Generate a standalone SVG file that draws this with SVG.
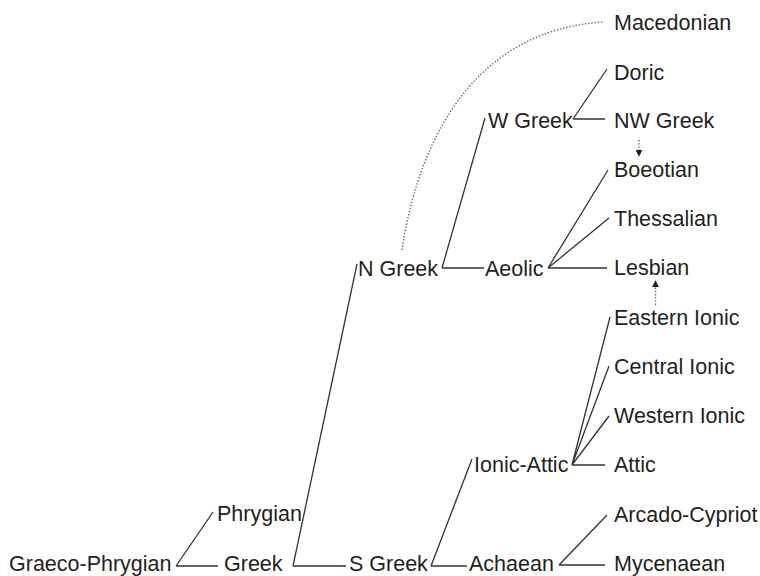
<svg xmlns="http://www.w3.org/2000/svg" width="760" height="576" viewBox="0 0 760 576">
<style>
text{font-family:"Liberation Sans",Arial,sans-serif;font-size:21.5px;fill:#231f20}
.e{stroke:#333;stroke-width:1.3;fill:none}
.d{stroke:#666;stroke-width:1.4;fill:none;stroke-dasharray:1.4 1.8}
</style>
<defs>
<marker id="ah" viewBox="0 0 10 10" refX="9" refY="5" markerWidth="7" markerHeight="7" markerUnits="userSpaceOnUse" orient="auto">
<path d="M0,0 L10,5 L0,10 Z" fill="#231f20"/>
</marker>
</defs>
<g id="connectors">
<path class="e" d="M176,566 L213,512 M176,566 L218,566"/>
<path class="e" d="M293,566 L357,264 M293,566 L346,566"/>
<path class="e" d="M431,566 L472,459 M431,566 L467,566"/>
<path class="e" d="M559,565 L607,515 M559,565 L605,565"/>
<path class="e" d="M442,268 L485,118 M442,268 L484,268"/>
<path class="e" d="M548,268 L608,170 M548,268 L609,218 M548,268 L607,268"/>
<path class="e" d="M573,119 L607,69 M573,119 L605,119"/>
<path class="e" d="M572,465 L610,317 M572,465 L609,366 M572,465 L609,416 M572,465 L605,465"/>
<path class="d" d="M402,250 C420,130 480,30 603,22"/>
<path class="d" d="M639,140 L639,156" marker-end="url(#ah)"/>
<path class="d" d="M655.5,305 L655.5,281" marker-end="url(#ah)"/>
</g>
<g id="n-graeco-phrygian"><text x="9" y="571">Graeco-Phrygian</text></g>
<g id="n-phrygian"><text x="217" y="521">Phrygian</text></g>
<g id="n-greek"><text x="224" y="571">Greek</text></g>
<g id="n-s-greek"><text x="349" y="571">S Greek</text></g>
<g id="n-n-greek"><text x="358" y="276">N Greek</text></g>
<g id="n-aeolic"><text x="485" y="276">Aeolic</text></g>
<g id="n-w-greek"><text x="488" y="128">W Greek</text></g>
<g id="n-ionic-attic"><text x="474" y="472">Ionic-Attic</text></g>
<g id="n-achaean"><text x="469" y="571">Achaean</text></g>
<g id="n-macedonian"><text x="614" y="30">Macedonian</text></g>
<g id="n-doric"><text x="614" y="80">Doric</text></g>
<g id="n-nw-greek"><text x="614" y="128">NW Greek</text></g>
<g id="n-boeotian"><text x="614" y="177">Boeotian</text></g>
<g id="n-thessalian"><text x="614" y="226">Thessalian</text></g>
<g id="n-lesbian"><text x="614" y="275">Lesbian</text></g>
<g id="n-eastern-ionic"><text x="614" y="325">Eastern Ionic</text></g>
<g id="n-central-ionic"><text x="614" y="374">Central Ionic</text></g>
<g id="n-western-ionic"><text x="614" y="423">Western Ionic</text></g>
<g id="n-attic"><text x="614" y="472">Attic</text></g>
<g id="n-arcado-cypriot"><text x="614" y="522">Arcado-Cypriot</text></g>
<g id="n-mycenaean"><text x="614" y="571">Mycenaean</text></g>
</svg>
